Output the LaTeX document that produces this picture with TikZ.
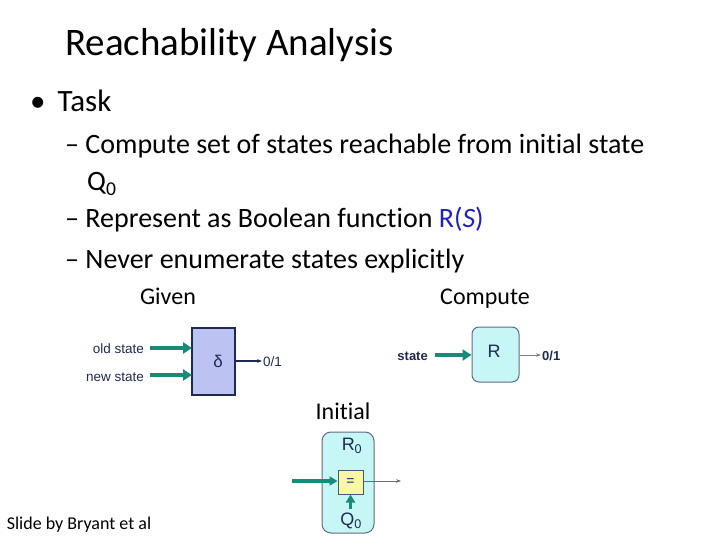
\documentclass[tikz,border=0pt]{standalone}
\usepackage{fontspec}
\setmainfont{Carlito}[Ligatures=NoCommon]
\newfontfamily\arial{Liberation Sans}
\usetikzlibrary{arrows.meta}
\definecolor{teal1}{HTML}{178A78}
\definecolor{navy}{HTML}{1F2A50}
\definecolor{lav}{HTML}{BCC2F2}
\definecolor{cyanf}{HTML}{C6F6F6}
\definecolor{yel}{HTML}{F8F8A0}
\definecolor{rblue}{HTML}{2020C0}
\tikzset{
 fat/.style={draw=teal1,line width=4.5pt,-{Triangle[length=9pt,width=11pt]}},
 thin/.style={draw=navy,line width=1pt,-{Stealth[length=5pt]}},
 txt/.style={inner sep=0pt,anchor=base west},
 small/.style={font=\arial\fontsize{13.5}{16}\selectfont,text=navy,inner sep=1pt},
 smallb/.style={font=\arial\bfseries\fontsize{13}{16}\selectfont,text=navy,inner sep=1pt},
 big/.style={font=\arial\fontsize{18}{21}\selectfont,text=navy}
}
\begin{document}
\begin{tikzpicture}[x=1pt,y=-1pt]
\useasboundingbox (0,0) rectangle (720,540);
\node[txt,font=\fontsize{39}{44}\selectfont] (title) at (65,56) {Reachability Analysis};
\node[txt,font=\fontsize{31}{36}\selectfont] (task) at (30,112) {•\hspace{12pt}Task};
\begin{scope}[every node/.style={txt,font=\fontsize{28}{32}\selectfont}]
\node (l1) at (65,154) {– Compute set of states reachable from initial state};
\node (l1b) at (87,191) {Q\textsubscript{0}};
\node (l2) at (65,228) {– Represent as Boolean function \textcolor{rblue}{R(\textit{S})}};
\node (l3) at (65,268) {– Never enumerate states explicitly};
\end{scope}
\node[txt,anchor=base,font=\fontsize{24}{28}\selectfont] (given) at (168,304) {Given};
\node[txt,anchor=base,font=\fontsize{24}{28}\selectfont] (compute) at (485,304) {Compute};
\node[txt,anchor=base,font=\fontsize{24}{28}\selectfont] (initial) at (343,419) {Initial};
\node[txt,anchor=base,font=\fontsize{18}{21}\selectfont] (slide) at (79,529) {Slide by Bryant et al};
% delta
\node[draw=navy,fill=lav,line width=1.3pt,minimum width=43pt,minimum height=67pt,inner sep=0pt] (d) at (213.5,361.5) {};
\node[big,font=\arial\fontsize{17}{20}\selectfont] (dl) at (218,361) {δ};
\coordinate (o1s) at (150,348); \coordinate (o1e) at (192,348);
\coordinate (o2s) at (150,375); \coordinate (o2e) at (192,375);
\draw[fat] (o1s) -- (o1e);
\draw[fat] (o2s) -- (o2e);
\node[small,anchor=east] (old) at (145,349) {old state};
\node[small,anchor=east] (new) at (145,377) {new state};
\node[small,anchor=west] (d01) at (262,362) {0/1};
\draw[thin,line width=1.4pt] (d.east |- 0,361) -- (d01.west |- 0,361);
% R
\node[draw=navy!70,fill=cyanf,line width=1pt,rounded corners=7pt,minimum width=47pt,minimum height=55pt] (R) at (495.5,354.5) {};
\node[big] (Rl) at (494,351) {R};
\node[smallb,anchor=east] (st) at (429,356) {state};
\draw[fat] (435,355) -- (R.west |- 0,355);
\node[smallb,anchor=west] (r01) at (541,356) {0/1};
\draw[thin,draw=gray,line width=0.8pt] (R.east |- 0,355) -- (r01.west |- 0,355);
% R0
\node[draw=navy!70,fill=cyanf,line width=1pt,rounded corners=9pt,minimum width=52pt,minimum height=101pt] (R0) at (348,482.5) {};
\node[big] (R0l) at (352,446) {R\textsubscript{0}};
\node[big] (Q0l) at (351,521) {Q\textsubscript{0}};
\node[draw=navy!80,fill=yel,line width=1pt,minimum width=25pt,minimum height=24pt,inner sep=0pt,font=\arial\fontsize{14}{16}\selectfont,text=navy] (eq) at (350.5,482) {=};
\coordinate (ein) at (292,481);
\coordinate (eout) at (401,481);
\draw[fat,line width=3.5pt,-{Triangle[length=8pt,width=9pt]}] (ein) -- (eq.west |- ein);
\draw[thin,draw=gray!80!navy] (eq.east |- eout) -- (eout);
\draw[fat,line width=3.5pt,-{Triangle[length=8pt,width=9pt]}] (Q0l.north -| eq) -- (eq.south);
\end{tikzpicture}
\end{document}
